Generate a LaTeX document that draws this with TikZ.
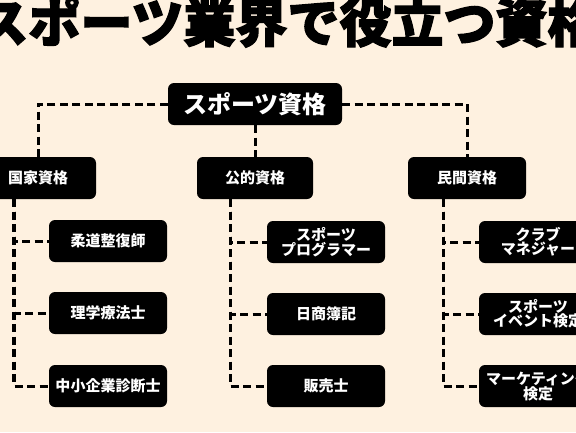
\documentclass[tikz,border=0pt]{standalone}
\usepackage{fontspec}
\setmainfont{Noto Sans CJK JP}
\newfontfamily\titlefont[BoldFeatures={FakeBold=2.5}]{Noto Sans CJK JP}
\usepackage{tikz}
\definecolor{paper}{HTML}{FEF1E0}

\begin{document}
\begin{tikzpicture}[x=1bp,y=-1bp,
		box/.style={fill=black,rounded corners=6bp,text=white,align=center,
			font=\bfseries\fontsize{15bp}{14bp}\selectfont,
			minimum width=118bp,minimum height=42bp,inner sep=0pt},
		link/.style={line width=3bp,dash pattern=on 8bp off 4.5bp}
	]
		\fill [paper] (0,0) rectangle (576,432);
		\useasboundingbox (0,0) rectangle (576,432);
		
		\node (title) at (288,22) {\titlefont\bfseries\fontsize{52bp}{52bp}\selectfont スポーツ業界で役立つ資格};
		
		\node [box, minimum width=174bp, font=\bfseries\fontsize{24bp}{24bp}\selectfont] (root) at (255,104) {スポーツ資格};
		
		\node [box, minimum width=116bp] (nat) at (38,178) {国家資格};
		\node [box, minimum width=116bp] (pub) at (255,178) {公的資格};
		\node [box] (priv) at (467,178) {民間資格};
		
		\node [box] (nat1) at (108,241) {柔道整復師};
		\node [box] (nat2) at (108,313) {理学療法士};
		\node [box] (nat3) at (108,386) {中小企業診断士};
		
		\node [box] (pub1) at (326,242) {スポーツ\\プログラマー};
		\node [box] (pub2) at (326,314) {日商簿記};
		\node [box] (pub3) at (326,386) {販売士};
		
		\node [box] (priv1) at (538,242) {クラブ\\マネジャー};
		\node [box] (priv2) at (538,314) {スポーツ\\イベント検定};
		\node [box] (priv3) at (538,386) {マーケティング\\検定};
		
		\draw [link] (root.west) -| (nat.north);
		\draw [link] (root.south) -- (pub.north);
		\draw [link] (root.east) -| (priv.north);
		
		\draw [link] ([xshift=-24bp]nat.south) |- (nat1.west);
		\draw [link] ([xshift=-24bp]nat.south) |- (nat2.west);
		\draw [link] ([xshift=-24bp]nat.south) |- (nat3.west);
		
		\draw [link] ([xshift=-25bp]pub.south) |- (pub1.west);
		\draw [link] ([xshift=-25bp]pub.south) |- (pub2.west);
		\draw [link] ([xshift=-25bp]pub.south) |- (pub3.west);
		
		\draw [link] ([xshift=-24bp]priv.south) |- (priv1.west);
		\draw [link] ([xshift=-24bp]priv.south) |- (priv2.west);
		\draw [link] ([xshift=-24bp]priv.south) |- (priv3.west);
\end{tikzpicture}
\end{document}
